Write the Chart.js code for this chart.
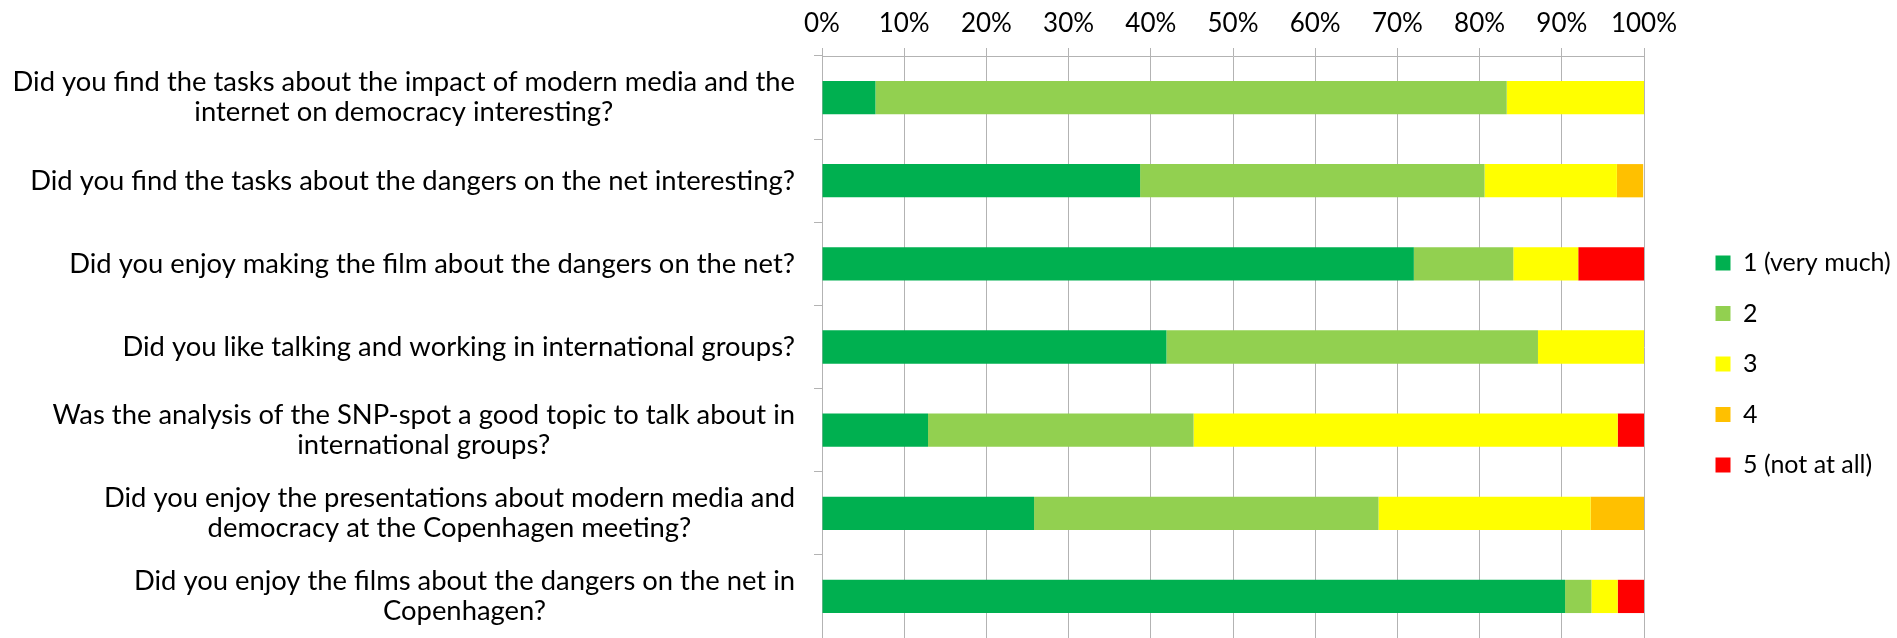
<!DOCTYPE html>
<html>
<head>
<meta charset="utf-8">
<script src="https://cdn.jsdelivr.net/npm/chart.js@4.4.1/dist/chart.umd.min.js"></script>
<style>
  body { margin: 0; background: #fff; }
  #wrap { width: 1897px; height: 638px; }
</style>
</head>
<body>
<div id="wrap"><canvas id="chart" width="1897" height="638"></canvas></div>
<script>
// ========== Data ==========
const questions = [
    ["Did you find the tasks about the impact of modern media and the", "internet on democracy interesting?"],
    ["Did you find the tasks about the dangers on the net interesting?"],
    ["Did you enjoy making the film about the dangers on the net?"],
    ["Did you like talking and working in international groups?"],
    ["Was the analysis of the SNP-spot a good topic to talk about in", "international groups?"],
    ["Did you enjoy the presentations about modern media and", "democracy at the Copenhagen meeting?"],
    ["Did you enjoy the films about the dangers on the net in", "Copenhagen?"]
];
const answerLabels = ["1 (very much)", "2", "3", "4", "5 (not at all)"];
const answerColors = ["#00b050", "#92d050", "#ffff00", "#ffc000", "#ff0000"];

// percent of answers per question
const veryMuch = [6.5, 38.7, 72.0, 41.9, 12.9, 25.8, 90.4];
const answer2  = [76.8, 41.9, 12.1, 45.2, 32.3, 41.9, 3.2];
const answer3  = [16.7, 16.1, 7.9, 12.9, 51.6, 25.8, 3.2];
const answer4  = [0, 3.2, 0, 0, 0, 6.5, 0];
const notAtAll = [0, 0, 8.0, 0, 3.2, 0, 3.2];

const xTicks = [0, 10, 20, 30, 40, 50, 60, 70, 80, 90, 100];

const FONT = "Lato";
const GRID = "#b3b3b3";

// ----- question labels: block right aligned, lines centred -----
const questionLabels = {
    id: 'questionLabels',
    afterDraw(chart) {
        const ctx = chart.ctx;
        const yScale = chart.scales.y;
        const right = 795;
        const lineH = 30;
        ctx.save();
        ctx.font = "27.4px " + FONT;
        ctx.fillStyle = "#000";
        ctx.textAlign = "center";
        ctx.textBaseline = "middle";
        questions.forEach((lines, i) => {
            const y = yScale.getPixelForValue(i);
            const w = Math.max(...lines.map(l => ctx.measureText(l).width));
            const cx = right - w / 2;
            lines.forEach((l, j) => {
                ctx.fillText(l, cx, y + (j - (lines.length - 1) / 2) * lineH);
            });
        });
        ctx.restore();
    }
};

// ----- push the legend a bit away from the plot -----
const legendGap = {
    id: 'legendGap',
    afterLayout(chart) {
        const lg = chart.legend;
        const shift = 46;
        lg.left += shift;
        lg.right += shift;
        lg.legendHitBoxes.forEach(h => { h.left += shift; });
    }
};

const series = [veryMuch, answer2, answer3, answer4, notAtAll];

const ctx = document.getElementById('chart').getContext('2d');
const myChart = new Chart(ctx, {
    type: 'bar',
    data: {
        labels: questions,
        datasets: series.map((d, i) => ({
            label: answerLabels[i],
            data: d,
            backgroundColor: answerColors[i],
            borderWidth: 0,
            barPercentage: 0.4,
            categoryPercentage: 1.0
        }))
    },
    options: {
        indexAxis: 'y',
        responsive: false,
        animation: false,
        layout: { padding: 0 },
        plugins: {
            tooltip: { enabled: false },
            legend: {
                position: 'right',
                // empty title only pushes the legend items down a little
                title: { display: true, text: '', font: { size: 10 }, padding: { top: 78, bottom: 0 } },
                labels: {
                    boxWidth: 15,
                    boxHeight: 15,
                    padding: 25.5,
                    color: "#000",
                    font: { family: FONT, size: 25 }
                }
            }
        },
        scales: {
            x: {
                position: 'top',
                stacked: true,
                min: 0,
                max: 100,
                afterBuildTicks: scale => { scale.ticks = xTicks.map(v => ({ value: v })); },
                afterFit: scale => {
                    scale.height = 56;
                    scale.paddingRight = 253; // room kept free for the legend
                },
                ticks: {
                    callback: v => v + '%',
                    color: "#000",
                    font: { family: FONT, size: 26 },
                    padding: 9
                },
                grid: { color: GRID, tickLength: 8 },
                border: { color: GRID }
            },
            y: {
                stacked: true,
                afterFit: scale => { scale.width = 822; },
                ticks: { display: false },
                grid: {
                    color: GRID,
                    drawOnChartArea: false,
                    drawTicks: true,
                    tickLength: 8,
                    offset: true
                },
                border: { color: GRID }
            }
        }
    },
    plugins: [questionLabels, legendGap]
});
</script>
</body>
</html>
